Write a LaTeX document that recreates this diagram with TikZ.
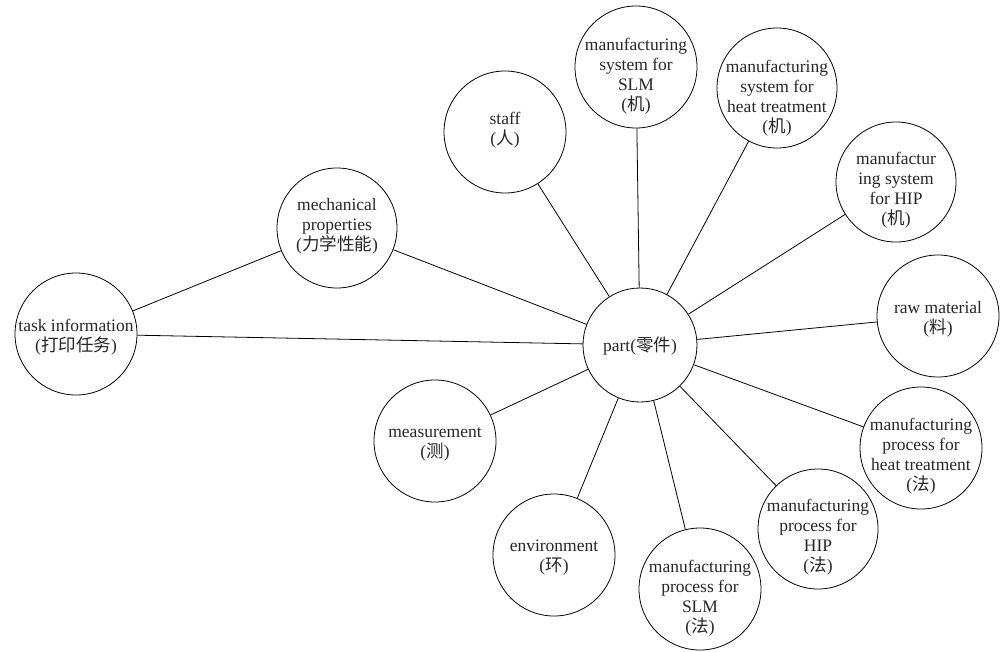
\documentclass[tikz,border=0pt]{standalone}
\usepackage{fontspec}
\setmainfont{Liberation Serif}
\newfontfamily\cjk{Noto Sans CJK SC}
\begin{document}
\begin{tikzpicture}[x=1pt,y=-1pt,
  bub/.style={draw,circle,line width=0.8pt,inner sep=0pt,minimum size=122pt},
  txt/.style={align=center,inner sep=0pt,text=black!85,
    font=\fontsize{17.5}{20}\selectfont},
  link/.style={line width=0.8pt}]
\useasboundingbox (0,0) rectangle (1008,651);
% circles
\node[bub,minimum size=114pt] (part) at (640,345) {};
\node[bub] (task) at (76,334) {};
\node[bub,minimum size=120pt] (mech) at (337,228) {};
\node[bub] (staff) at (505,132) {};
\node[bub] (sysslm) at (636,67) {};
\node[bub,minimum size=120pt] (sysheat) at (777,88) {};
\node[bub,minimum size=120pt] (syship) at (896,182) {};
\node[bub] (raw) at (938,316) {};
\node[bub] (procheat) at (921,448) {};
\node[bub,minimum size=120pt] (prochip) at (818,529) {};
\node[bub] (procslm) at (700,589) {};
\node[bub] (env) at (554,555) {};
\node[bub] (meas) at (435,441) {};
% texts
\node[txt] (tpart) at ([yshift=-1pt]part.center) {part({\cjk 零件})};
\node[txt] (ttask) at ([yshift=-3pt]task.center) {task information\\({\cjk 打印任务})};
\node[txt] (tmech) at ([yshift=2pt]mech.center) {mechanical\\properties\\({\cjk 力学性能})};
\node[txt] (tstaff) at ([yshift=2pt]staff.center) {staff\\({\cjk 人})};
\node[txt] (tsysslm) at ([yshift=-9pt]sysslm.center) {manufacturing\\system for\\SLM\\({\cjk 机})};
\node[txt] (tsysheat) at ([yshift=-10pt]sysheat.center) {manufacturing\\system for\\heat treatment\\({\cjk 机})};
\node[txt] (tsyship) at ([yshift=-8pt]syship.center) {manufactur\\ing system\\for HIP\\({\cjk 机})};
\node[txt] (traw) at ([yshift=-3pt]raw.center) {raw material\\({\cjk 料})};
\node[txt] (tprocheat) at ([yshift=-8pt]procheat.center) {manufacturing\\process for\\heat treatment\\({\cjk 法})};
\node[txt] (tprochip) at ([yshift=-8pt]prochip.center) {manufacturing\\process for\\HIP\\({\cjk 法})};
\node[txt] (tprocslm) at ([yshift=-9pt]procslm.center) {manufacturing\\process for\\SLM\\({\cjk 法})};
\node[txt] (tenv) at ([yshift=-3pt]env.center) {environment\\({\cjk 环})};
\node[txt] (tmeas) at ([yshift=-3pt]meas.center) {measurement\\({\cjk 测})};
% connectors
\draw[link] (task) -- (mech);
\draw[link] (task) -- (part);
\draw[link] (mech) -- (part);
\foreach \n in {staff,sysslm,sysheat,syship,raw,procheat,prochip,procslm,env,meas}
  \draw[link] (part) -- (\n);
\end{tikzpicture}
\end{document}
